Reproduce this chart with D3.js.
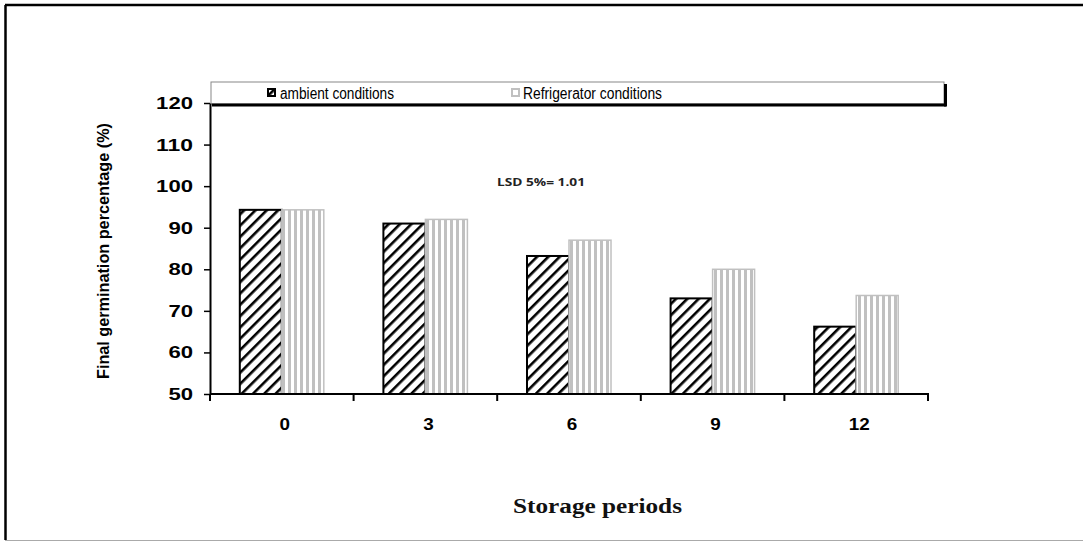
<!DOCTYPE html>
<html>
<head>
<meta charset="utf-8">
<script src="https://cdn.jsdelivr.net/npm/d3@7"></script>
<style>
  html, body { margin: 0; padding: 0; background: #fff; }
  svg { display: block; }
</style>
</head>
<body>
<svg id="chart" width="1083" height="542"></svg>
<script>
const categories = ["0", "3", "6", "9", "12"];
const seriesNames = ["ambient conditions", "Refrigerator conditions"];
const ambient = [94.3, 91.0, 83.2, 73.0, 66.2];
const refrigerator = [94.3, 92.0, 87.0, 80.0, 73.7];
const yTicks = [50, 60, 70, 80, 90, 100, 110, 120];
const lsdText = "LSD 5%= 1.01";

const svg = d3.select("#chart");
const W = 1083, H = 542;
const sans = "Liberation Sans, Arial, sans-serif";

// outer frame
svg.append("line").attr("x1", 5).attr("x2", W).attr("y1", 5).attr("y2", 5)
  .attr("stroke", "#000").attr("stroke-width", 2.5);
svg.append("line").attr("x1", 5.5).attr("x2", 5.5).attr("y1", 5).attr("y2", 540)
  .attr("stroke", "#000").attr("stroke-width", 2.5);
svg.append("line").attr("x1", 5).attr("x2", W).attr("y1", 540.5).attr("y2", 540.5)
  .attr("stroke", "#aaa").attr("stroke-width", 1);

const defs = svg.append("defs");
const pd = defs.append("pattern").attr("id", "hatchDiag")
  .attr("patternUnits", "userSpaceOnUse").attr("width", 8).attr("height", 8)
  .attr("patternTransform", "rotate(45)");
pd.append("rect").attr("width", 8).attr("height", 8).attr("fill", "#fff");
pd.append("rect").attr("x", 0).attr("y", 0).attr("width", 2.6).attr("height", 8).attr("fill", "#000");
const pv = defs.append("pattern").attr("id", "hatchVert")
  .attr("patternUnits", "userSpaceOnUse").attr("width", 6).attr("height", 6);
pv.append("rect").attr("width", 6).attr("height", 6).attr("fill", "#fff");
pv.append("rect").attr("x", 0).attr("width", 3).attr("height", 6).attr("fill", "#c0c0c0");

const x0 = 210, x1 = 928, yTop = 103, yBot = 394;
const x = d3.scaleBand().domain(categories).range([x0, x1]).paddingInner(0).paddingOuter(0);
const y = d3.scaleLinear().domain([50, 120]).range([yBot, yTop]);
const barW = 42;

const g = svg.append("g");

// legend box
const lg = svg.append("g");
lg.append("rect").attr("x", 211).attr("y", 82).attr("width", 733).attr("height", 22)
  .attr("fill", "#fff").attr("stroke", "#888").attr("stroke-width", 1);
lg.append("line").attr("x1", 212).attr("x2", 946).attr("y1", 105).attr("y2", 105)
  .attr("stroke", "#000").attr("stroke-width", 3);
lg.append("line").attr("x1", 945.5).attr("x2", 945.5).attr("y1", 84).attr("y2", 106.5)
  .attr("stroke", "#000").attr("stroke-width", 3);
lg.append("rect").attr("x", 268).attr("y", 89).attr("width", 7).attr("height", 7)
  .attr("fill", "url(#hatchDiag)").attr("stroke", "#000").attr("stroke-width", 2);
lg.append("text").attr("x", 280).attr("y", 99).text(seriesNames[0])
  .attr("font-family", sans).attr("font-size", 16).attr("fill", "#000")
  .attr("textLength", 114).attr("lengthAdjust", "spacingAndGlyphs");
lg.append("rect").attr("x", 512).attr("y", 89).attr("width", 7).attr("height", 7)
  .attr("fill", "#fff").attr("stroke", "#c0c0c0").attr("stroke-width", 2);
lg.append("text").attr("x", 523).attr("y", 99).text(seriesNames[1])
  .attr("font-family", sans).attr("font-size", 16).attr("fill", "#000")
  .attr("textLength", 139).attr("lengthAdjust", "spacingAndGlyphs");

// bars
g.selectAll(".amb").data(ambient).enter().append("rect")
  .attr("x", (d, i) => x(categories[i]) + x.bandwidth() / 2 - barW)
  .attr("y", d => y(d))
  .attr("width", barW)
  .attr("height", d => yBot - y(d))
  .attr("fill", "url(#hatchDiag)")
  .attr("stroke", "#000").attr("stroke-width", 2);
g.selectAll(".ref").data(refrigerator).enter().append("rect")
  .attr("x", (d, i) => x(categories[i]) + x.bandwidth() / 2)
  .attr("y", d => y(d))
  .attr("width", barW)
  .attr("height", d => yBot - y(d))
  .attr("fill", "url(#hatchVert)")
  .attr("stroke", "#c0c0c0").attr("stroke-width", 1.5);

// y axis
const yAxis = d3.axisLeft(y).tickValues(yTicks).tickSize(6).tickSizeOuter(0);
const ya = svg.append("g").attr("transform", `translate(${x0},0)`).call(yAxis);
ya.select(".domain").attr("stroke", "#000").attr("stroke-width", 2);
ya.selectAll(".tick line").attr("stroke", "#000").attr("stroke-width", 1.5);
ya.selectAll(".tick text").attr("font-family", sans)
  .attr("font-size", 17).attr("font-weight", "bold").attr("fill", "#000").attr("x", -17)
  .attr("textLength", d => String(d).length * 12.3).attr("lengthAdjust", "spacingAndGlyphs");

// x axis
const xa = svg.append("g").attr("transform", `translate(0,${yBot})`);
xa.append("line").attr("x1", x0).attr("x2", x1 + 1).attr("y1", 0).attr("y2", 0)
  .attr("stroke", "#000").attr("stroke-width", 2);
const tickPos = categories.map(c => x(c) + x.bandwidth());
xa.selectAll(".xt").data(tickPos).enter().append("line")
  .attr("x1", d => d).attr("x2", d => d).attr("y1", 0).attr("y2", 7)
  .attr("stroke", "#000").attr("stroke-width", 2);
xa.append("line").attr("x1", x0).attr("x2", x0).attr("y1", 0).attr("y2", 7)
  .attr("stroke", "#000").attr("stroke-width", 2);
xa.selectAll(".xl").data(categories).enter().append("text")
  .attr("x", d => x(d) + x.bandwidth() / 2 + 3)
  .attr("y", 36)
  .attr("text-anchor", "middle")
  .attr("font-family", sans)
  .attr("font-size", 17).attr("font-weight", "bold").attr("fill", "#000")
  .attr("textLength", d => d.length * 10.5).attr("lengthAdjust", "spacingAndGlyphs")
  .text(d => d);

// y title
svg.append("text")
  .attr("transform", "translate(109,251) rotate(-90)")
  .attr("text-anchor", "middle")
  .attr("font-family", sans)
  .attr("font-size", 16.5).attr("font-weight", "bold").attr("fill", "#000")
  .attr("textLength", 256).attr("lengthAdjust", "spacingAndGlyphs")
  .text("Final germination percentage (%)");

// LSD text
svg.append("text").attr("x", 497).attr("y", 186)
  .attr("font-family", "Open Sans, Liberation Sans, sans-serif")
  .attr("font-size", 11).attr("font-weight", "bold").attr("fill", "#222")
  .attr("textLength", 88).attr("lengthAdjust", "spacingAndGlyphs")
  .text(lsdText);

// x title
svg.append("text").attr("x", 513).attr("y", 513)
  .attr("font-family", "Liberation Serif, DejaVu Serif, serif")
  .attr("font-size", 20).attr("font-weight", "bold").attr("fill", "#111")
  .attr("textLength", 169).attr("lengthAdjust", "spacingAndGlyphs")
  .text("Storage periods");
</script>
</body>
</html>
